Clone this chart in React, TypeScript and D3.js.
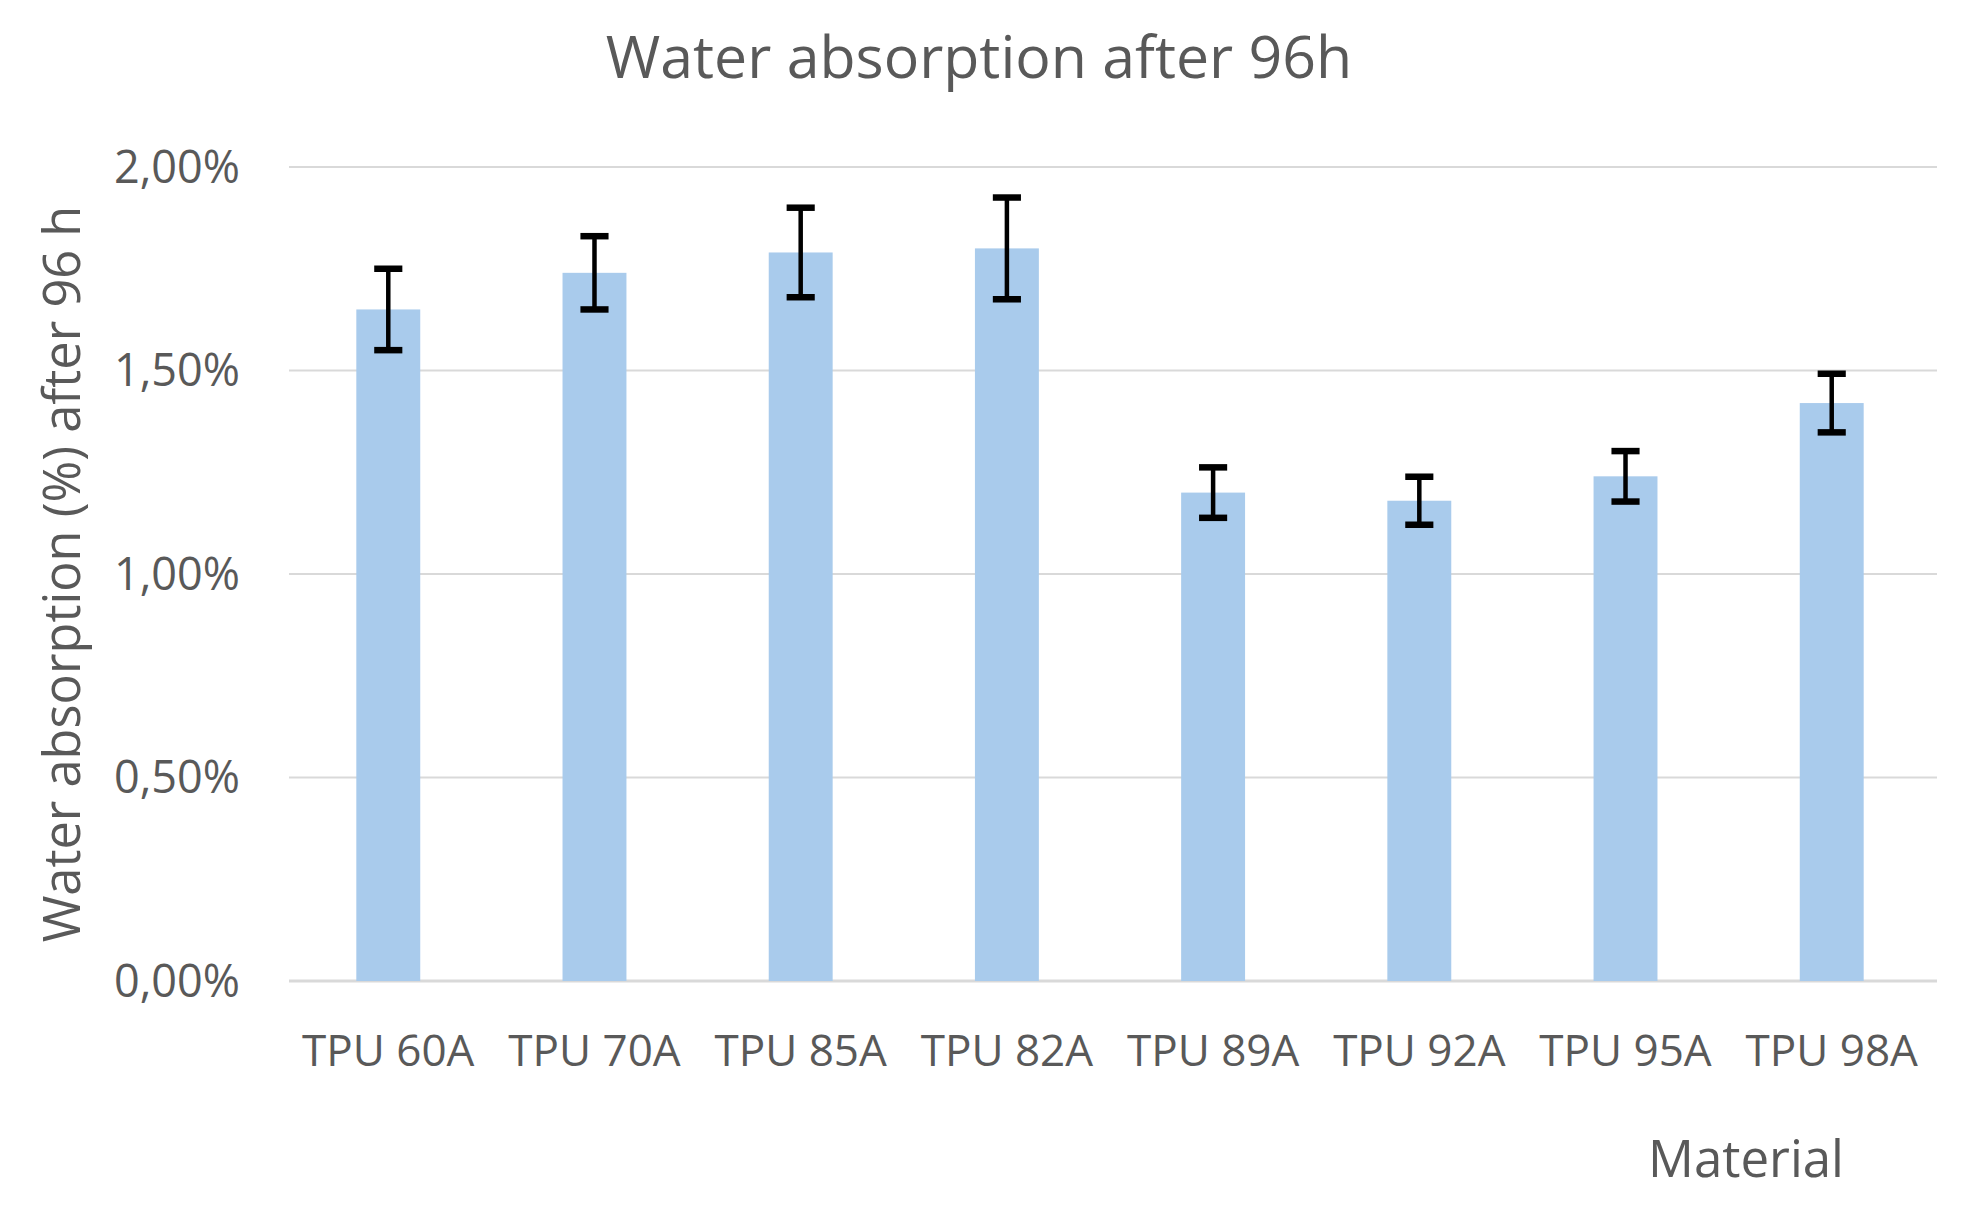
import React from 'react';
import * as d3 from 'd3';

const categories = ['TPU 60A', 'TPU 70A', 'TPU 85A', 'TPU 82A', 'TPU 89A', 'TPU 92A', 'TPU 95A', 'TPU 98A'];
const absorption = [1.65, 1.74, 1.79, 1.80, 1.20, 1.18, 1.24, 1.42];
const errors = [0.10, 0.09, 0.11, 0.125, 0.062, 0.059, 0.062, 0.072];
const yTicks = [0, 0.5, 1.0, 1.5, 2.0];

const W = 1975;
const H = 1208;
const margin = { left: 289, right: 38, top: 167, bottom: 227 };
const font = '"Open Sans", "Noto Sans", sans-serif';
const textColor = '#595959';

const fmt = (v: number) => v.toFixed(2).replace('.', ',') + '%';

export default function App() {
  // bands sit a few px inside the gridline extent, like Excel does
  const x = d3.scaleBand<string>()
    .domain(categories)
    .range([286, 1934])
    .paddingInner(0.69)
    .paddingOuter(0.341);

  const y = d3.scaleLinear().domain([0, 2]).range([H - margin.bottom, margin.top]);

  const bw = x.bandwidth();
  const capW = bw * 0.44;

  return (
    <svg width={W} height={H} style={{ position: 'absolute', left: 0, top: 0, background: '#fff' }}>
      {/* title */}
      <text x={979} y={78} textAnchor="middle" fontFamily={font} fontSize={59} fill={textColor}>
        Water absorption after 96h
      </text>

      {/* grid + y ticks */}
      {yTicks.map(t => (
        <g key={t}>
          <line x1={margin.left} x2={W - margin.right} y1={y(t)} y2={y(t)}
            stroke="#d9d9d9" strokeWidth={t === 0 ? 3 : 2} />
          <text x={240} y={y(t)} dy="0.35em" textAnchor="end" fontFamily={font} fontSize={45} fill={textColor}>
            {fmt(t)}
          </text>
        </g>
      ))}

      {/* bars */}
      {categories.map((c, i) => (
        <rect key={c} x={x(c)} y={y(absorption[i])} width={bw}
          height={y(0) - y(absorption[i])} fill="#a9cbec" />
      ))}

      {/* error bars */}
      {categories.map((c, i) => {
        const cx = (x(c) as number) + bw / 2;
        const hi = y(absorption[i] + errors[i]);
        const lo = y(absorption[i] - errors[i]);
        return (
          <g key={'e' + c} stroke="#000">
            <line x1={cx} x2={cx} y1={hi} y2={lo} strokeWidth={4.5} />
            <line x1={cx - capW / 2} x2={cx + capW / 2} y1={hi} y2={hi} strokeWidth={6.5} />
            <line x1={cx - capW / 2} x2={cx + capW / 2} y1={lo} y2={lo} strokeWidth={6.5} />
          </g>
        );
      })}

      {/* category labels */}
      {categories.map(c => (
        <text key={'l' + c} x={(x(c) as number) + bw / 2} y={1066} textAnchor="middle"
          fontFamily={font} fontSize={44} fill={textColor}>
          {c}
        </text>
      ))}

      {/* axis titles */}
      <text transform={`translate(80,574) rotate(-90)`} textAnchor="middle"
        fontFamily={font} fontSize={50.5} fill={textColor}>
        Water absorption (%) after 96 h
      </text>
      <text x={1746} y={1177} textAnchor="middle" fontFamily={font} fontSize={51} fill={textColor}>
        Material
      </text>
    </svg>
  );
}
